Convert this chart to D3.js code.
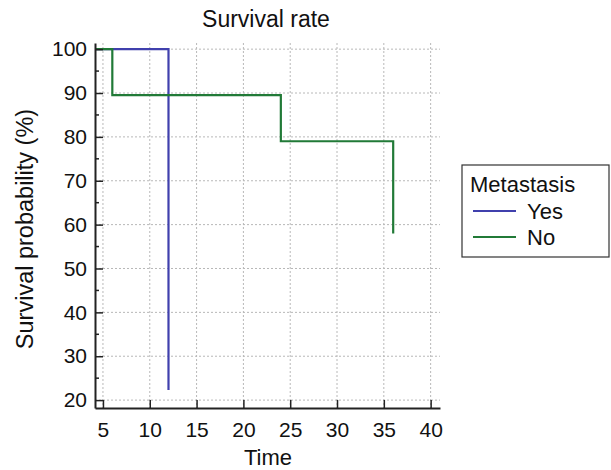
<!DOCTYPE html>
<html>
<head>
<meta charset="utf-8">
<script src="https://cdn.jsdelivr.net/npm/d3@7"></script>
<style>
  body { margin: 0; background: #fff; }
  text { font-family: "Liberation Sans", Arial, sans-serif; fill: #111; }
</style>
</head>
<body>
<div id="chart"></div>
<script>
// survival curves (time, survival %), step functions
var yesTimes = [0, 12, 12];
var yesSurv = [100, 100, 22.3];
var noTimes = [0, 6, 6, 24, 24, 36, 36];
var noSurv = [100, 100, 89.5, 89.5, 79, 79, 58];

var xTicks = [5, 10, 15, 20, 25, 30, 35, 40];
var yTicks = [20, 30, 40, 50, 60, 70, 80, 90, 100];
var yMinor = [25, 35, 45, 55, 65, 75, 85, 95];

var groups = ["Yes", "No"];
var colors = { Yes: "#4040ad", No: "#217a37" };

var W = 611, H = 470;
var pL = 95, pR = 440, pT = 43, pB = 408;

var svg = d3.select("#chart").append("svg").attr("width", W).attr("height", H);

var x = d3.scaleLinear().domain([4.15, 41]).range([pL, pR]);
var y = d3.scaleLinear().domain([18.2, 101.4]).range([pB, pT]);

// grid
svg.append("g").selectAll("line").data(xTicks).enter().append("line")
  .attr("x1", d => x(d)).attr("x2", d => x(d))
  .attr("y1", pT).attr("y2", pB)
  .attr("stroke", "#b8b8b8").attr("stroke-dasharray", "2,2");
svg.append("g").selectAll("line").data(yTicks).enter().append("line")
  .attr("x1", pL).attr("x2", pR)
  .attr("y1", d => y(d)).attr("y2", d => y(d))
  .attr("stroke", "#b8b8b8").attr("stroke-dasharray", "2,2");

// curves
svg.append("clipPath").attr("id", "clip").append("rect")
  .attr("x", pL).attr("y", pT - 5).attr("width", pR - pL).attr("height", pB - pT + 5);

var line = d3.line().x(d => x(d[0])).y(d => y(d[1]));
var curves = svg.append("g").attr("clip-path", "url(#clip)");
curves.append("path").datum(d3.zip(yesTimes, yesSurv))
  .attr("d", line).attr("fill", "none").attr("stroke", colors.Yes).attr("stroke-width", 2.2);
curves.append("path").datum(d3.zip(noTimes, noSurv))
  .attr("d", line).attr("fill", "none").attr("stroke", colors.No).attr("stroke-width", 2.2);

// axes
var xAxis = d3.axisBottom(x).tickValues(xTicks).tickSize(-8).tickPadding(14).tickSizeOuter(0);
var gx = svg.append("g").attr("transform", "translate(0," + pB + ")").call(xAxis);
var yAxis = d3.axisLeft(y).tickValues(yTicks).tickSize(-8).tickPadding(8).tickSizeOuter(0);
var gy = svg.append("g").attr("transform", "translate(" + pL + ",0)").call(yAxis);
svg.append("g").selectAll("line").data(yMinor).enter().append("line")
  .attr("x1", pL).attr("x2", pL + 4)
  .attr("y1", d => y(d)).attr("y2", d => y(d))
  .attr("stroke", "#222").attr("stroke-width", 1.5);

[gx, gy].forEach(function (g) {
  g.select(".domain").attr("stroke", "#222").attr("stroke-width", 2);
  g.selectAll(".tick line").attr("stroke", "#222").attr("stroke-width", 1.5);
  g.selectAll(".tick text").attr("font-size", 21).attr("fill", "#111")
    .attr("font-family", "Liberation Sans, Arial, sans-serif");
});
gx.selectAll(".tick text").attr("dy", "0.71em");

// titles
svg.append("text").attr("x", 266).attr("y", 27).attr("text-anchor", "middle")
  .attr("font-size", 23).text("Survival rate");
svg.append("text").attr("x", 268).attr("y", 465).attr("text-anchor", "middle")
  .attr("font-size", 22).text("Time");
svg.append("text").attr("transform", "translate(33,229) rotate(-90)").attr("text-anchor", "middle")
  .attr("font-size", 23.5).text("Survival probability (%)");

// legend
var lg = svg.append("g");
lg.append("rect").attr("x", 462).attr("y", 165).attr("width", 147).attr("height", 92)
  .attr("fill", "#fff").attr("stroke", "#333").attr("stroke-width", 1.2);
lg.append("text").attr("x", 470).attr("y", 192).attr("font-size", 22).text("Metastasis");
groups.forEach(function (g, i) {
  var ly = 211 + i * 26;
  lg.append("line").attr("x1", 473).attr("x2", 516).attr("y1", ly).attr("y2", ly)
    .attr("stroke", colors[g]).attr("stroke-width", 2);
  lg.append("text").attr("x", 527).attr("y", ly + 8).attr("font-size", 22).text(g);
});
</script>
</body>
</html>
